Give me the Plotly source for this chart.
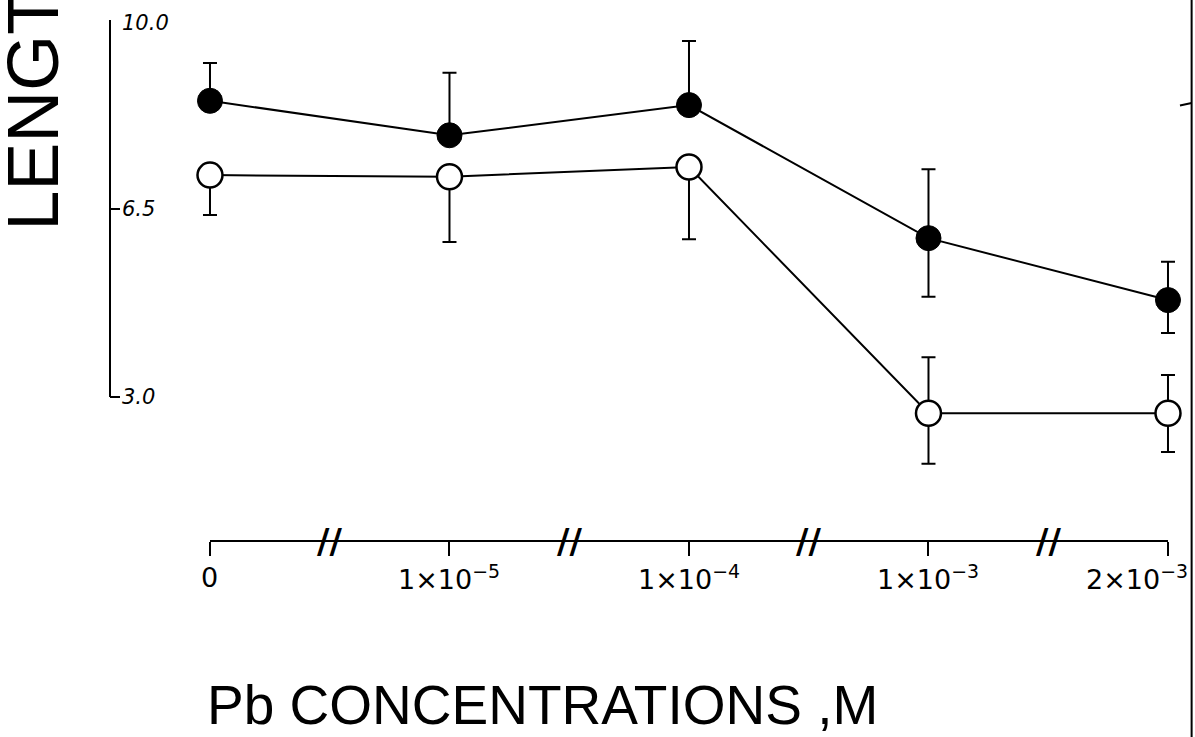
import plotly.graph_objects as go

# ---- data ----
categories = ["0", "1e-5", "1e-4", "1e-3", "2e-3"]
tick_labels = ["0", "1×10<sup>−5</sup>", "1×10<sup>−4</sup>", "1×10<sup>−3</sup>", "2×10<sup>−3</sup>"]

filled_vals = [8.50, 7.86, 8.42, 5.95, 4.80]
filled_err_plus = [0.70, 1.16, 1.19, 1.28, 0.71]
filled_err_minus = [0.0, 0.0, 0.0, 1.09, 0.61]

open_vals = [7.12, 7.09, 7.27, 2.70, 2.70]
open_err_plus = [0.0, 0.0, 0.0, 1.04, 0.71]
open_err_minus = [0.74, 1.21, 1.34, 0.94, 0.72]

y_ticks = [10.0, 6.5, 3.0]
y_tick_text = ["10.0", "6.5", "3.0"]

TITLE_FONT = "Liberation Sans, Arial, sans-serif"

fig = go.Figure()

fig.add_trace(go.Scatter(
    x=categories, y=open_vals, mode="lines+markers",
    line=dict(color="black", width=2),
    marker=dict(size=25, color="white", line=dict(color="black", width=2.5)),
    error_y=dict(type="data", symmetric=False, array=open_err_plus,
                 arrayminus=open_err_minus, color="black", thickness=2, width=7),
    showlegend=False, cliponaxis=False,
))
fig.add_trace(go.Scatter(
    x=categories, y=filled_vals, mode="lines+markers",
    line=dict(color="black", width=2),
    marker=dict(size=25, color="black", line=dict(color="black", width=1)),
    error_y=dict(type="data", symmetric=False, array=filled_err_plus,
                 arrayminus=filled_err_minus, color="black", thickness=2, width=7),
    showlegend=False, cliponaxis=False,
))

x_range = [-0.4175, 4.0919]

fig.update_layout(
    width=1195, height=737,
    margin=dict(l=110, r=5, t=20, b=196, autoexpand=False),
    paper_bgcolor="white", plot_bgcolor="white",
    showlegend=False,
    xaxis=dict(
        type="category", categoryarray=categories, range=x_range,
        automargin=False,
        showgrid=False, zeroline=False, showline=False,
        tickmode="array", tickvals=categories, showticklabels=False,
        ticks="outside", ticklen=14, tickwidth=2, tickcolor="black",
    ),
    xaxis2=dict(
        type="category", categoryarray=categories, range=x_range,
        overlaying="x", anchor="y", side="bottom", automargin=False,
        showgrid=False, zeroline=False, showline=False,
        tickmode="array", tickvals=categories, showticklabels=False,
        ticks="inside", ticklen=14, tickwidth=2, tickcolor="black",
    ),
    yaxis=dict(
        range=[0.327, 10.0], automargin=False,
        showgrid=False, zeroline=False, showline=False,
        tickmode="array", tickvals=y_ticks, showticklabels=False,
        ticks="inside", ticklen=10, tickwidth=2, tickcolor="black",
    ),
)

# x tick labels below the axis (placed by category index); the last one is
# pulled left of its tick as in the drawing
for i, t in enumerate(tick_labels):
    last = i == len(tick_labels) - 1
    fig.add_annotation(x=i, y=0, xref="x", yref="paper", text=t, showarrow=False,
                       xanchor="right" if last else "center", yanchor="middle",
                       xshift=22 if last else 0, yshift=-36,
                       font=dict(family="DejaVu Sans", size=27, color="black"))

# y tick labels (drawn beside the inside ticks)
for v, t in zip(y_ticks, y_tick_text):
    fig.add_annotation(x=0.009, y=v, xref="paper", yref="y", text=t,
                       showarrow=False, xanchor="left", yanchor="middle",
                       yshift=-3 if v == max(y_ticks) else 0,
                       font=dict(family="DejaVu Sans", size=21, color="black",
                                 style="italic"))

# y-axis line from 3.0 to 10.0
fig.add_shape(type="line", xref="paper", yref="y", x0=0, x1=0,
              y0=min(y_ticks), y1=max(y_ticks), line=dict(color="black", width=2))
# x-axis line from first to last category
fig.add_shape(type="line", xref="x", yref="paper", x0=0, x1=len(categories) - 1,
              y0=0, y1=0, line=dict(color="black", width=2))
# right border line of the page
fig.add_shape(type="line", xref="paper", yref="paper", x0=1.0015, x1=1.0015,
              y0=-0.376, y1=1.04, line=dict(color="black", width=2))
fig.add_shape(type="line", xref="paper", yref="paper", x0=0.9907, x1=1.0015,
              y0=0.836, y1=0.8407, line=dict(color="black", width=2))

# axis-break marks
for i in range(len(categories) - 1):
    fig.add_annotation(x=i + 0.5, y=0, xref="x", yref="paper", text="<b>//</b>",
                       showarrow=False, xanchor="center", yanchor="middle",
                       font=dict(family="DejaVu Sans", size=34, color="black"))

# axis titles
fig.add_annotation(x=-0.072, y=0.592, xref="paper", yref="paper", text="LENGTH",
                   textangle=-90, showarrow=False, xanchor="center", yanchor="bottom",
                   font=dict(family=TITLE_FONT, size=72, color="black"))
fig.add_annotation(x=0.088, y=-0.315, xref="paper", yref="paper",
                   text="Pb CONCENTRATIONS ,M", showarrow=False,
                   xanchor="left", yanchor="middle",
                   font=dict(family=TITLE_FONT, size=55, color="black"))

fig.write_html("out.html")
